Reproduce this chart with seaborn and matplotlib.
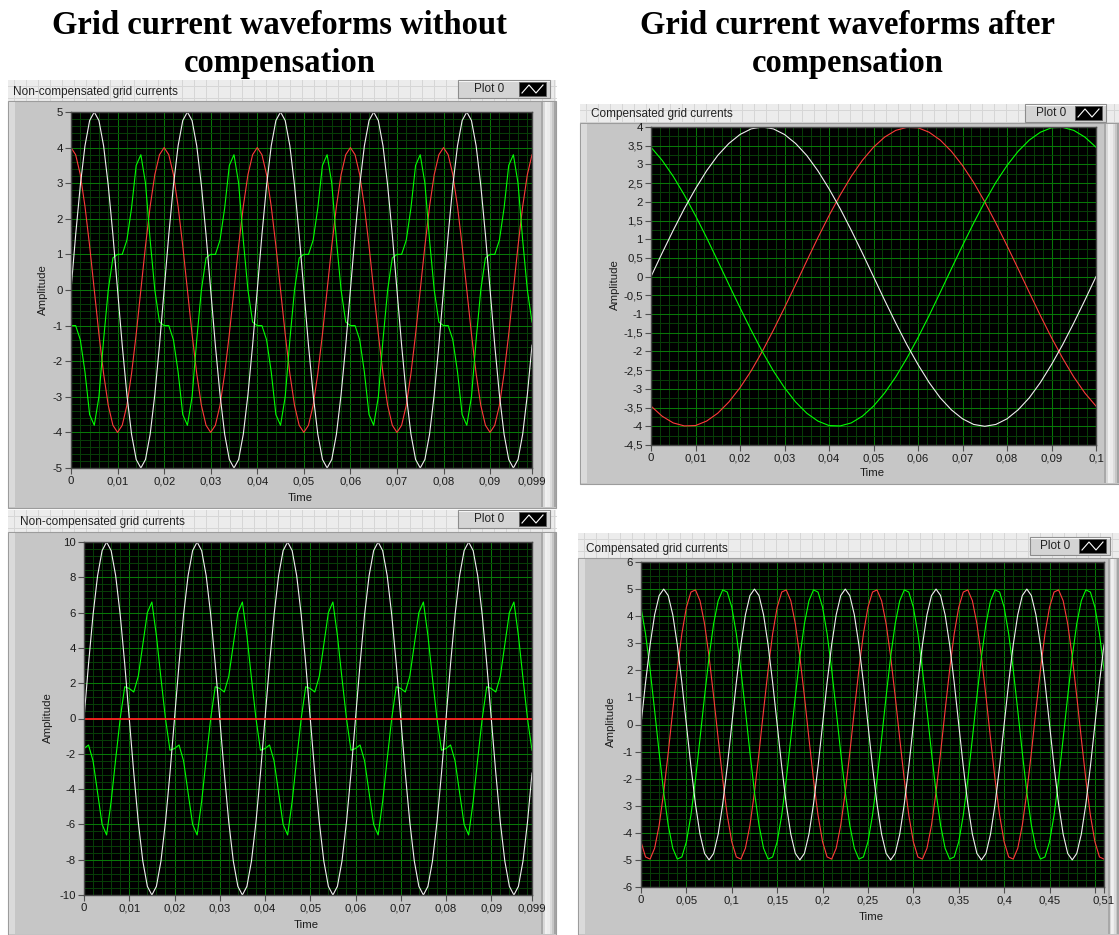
import numpy as np
import pandas as pd
import matplotlib
matplotlib.use("Agg")
import matplotlib.pyplot as plt
import seaborn as sns
from matplotlib.patches import Rectangle
from matplotlib.lines import Line2D
from matplotlib.ticker import MultipleLocator

plt.rcParams['font.family'] = ['Liberation Sans', 'DejaVu Sans']

# ---------------------------------------------------------------- data
# Top-left: non-compensated currents, 100 samples, dt = 0.001 s
TL_DT = 0.001
TL_WHITE = [
    0.0, 1.55, 2.94, 4.05, 4.76, 5.0, 4.76, 4.05, 2.94, 1.55, 0.0, -1.55, -2.94, -4.05, -4.76, -5.0, -4.76, -4.05, -2.94, -1.55,
    0.0, 1.55, 2.94, 4.05, 4.76, 5.0, 4.76, 4.05, 2.94, 1.55, 0.0, -1.55, -2.94, -4.05, -4.76, -5.0, -4.76, -4.05, -2.94, -1.55,
    0.0, 1.55, 2.94, 4.05, 4.76, 5.0, 4.76, 4.05, 2.94, 1.55, 0.0, -1.55, -2.94, -4.05, -4.76, -5.0, -4.76, -4.05, -2.94, -1.55,
    0.0, 1.55, 2.94, 4.05, 4.76, 5.0, 4.76, 4.05, 2.94, 1.55, 0.0, -1.55, -2.94, -4.05, -4.76, -5.0, -4.76, -4.05, -2.94, -1.55,
    0.0, 1.55, 2.94, 4.05, 4.76, 5.0, 4.76, 4.05, 2.94, 1.55, 0.0, -1.55, -2.94, -4.05, -4.76, -5.0, -4.76, -4.05, -2.94, -1.55,
]
TL_RED = [
    4.0, 3.8, 3.24, 2.35, 1.24, 0.0, -1.24, -2.35, -3.24, -3.8, -4.0, -3.8, -3.24, -2.35, -1.24, 0.0, 1.24, 2.35, 3.24, 3.8,
    4.0, 3.8, 3.24, 2.35, 1.24, 0.0, -1.24, -2.35, -3.24, -3.8, -4.0, -3.8, -3.24, -2.35, -1.24, 0.0, 1.24, 2.35, 3.24, 3.8,
    4.0, 3.8, 3.24, 2.35, 1.24, 0.0, -1.24, -2.35, -3.24, -3.8, -4.0, -3.8, -3.24, -2.35, -1.24, 0.0, 1.24, 2.35, 3.24, 3.8,
    4.0, 3.8, 3.24, 2.35, 1.24, 0.0, -1.24, -2.35, -3.24, -3.8, -4.0, -3.8, -3.24, -2.35, -1.24, 0.0, 1.24, 2.35, 3.24, 3.8,
    4.0, 3.8, 3.24, 2.35, 1.24, 0.0, -1.24, -2.35, -3.24, -3.8, -4.0, -3.8, -3.24, -2.35, -1.24, 0.0, 1.24, 2.35, 3.24, 3.8,
]
TL_GREEN = [
    -1.0, -1.0, -1.4, -2.3, -3.5, -3.8, -3.0, -1.4, 0.0, 0.9, 1.0, 1.0, 1.4, 2.3, 3.5, 3.8, 3.0, 1.4, 0.0, -0.9,
    -1.0, -1.0, -1.4, -2.3, -3.5, -3.8, -3.0, -1.4, 0.0, 0.9, 1.0, 1.0, 1.4, 2.3, 3.5, 3.8, 3.0, 1.4, 0.0, -0.9,
    -1.0, -1.0, -1.4, -2.3, -3.5, -3.8, -3.0, -1.4, 0.0, 0.9, 1.0, 1.0, 1.4, 2.3, 3.5, 3.8, 3.0, 1.4, 0.0, -0.9,
    -1.0, -1.0, -1.4, -2.3, -3.5, -3.8, -3.0, -1.4, 0.0, 0.9, 1.0, 1.0, 1.4, 2.3, 3.5, 3.8, 3.0, 1.4, 0.0, -0.9,
    -1.0, -1.0, -1.4, -2.3, -3.5, -3.8, -3.0, -1.4, 0.0, 0.9, 1.0, 1.0, 1.4, 2.3, 3.5, 3.8, 3.0, 1.4, 0.0, -0.9,
]
TL_XTICKS = [0, 0.01, 0.02, 0.03, 0.04, 0.05, 0.06, 0.07, 0.08, 0.09, 0.099]
TL_XLABELS = ["0", "0,01", "0,02", "0,03", "0,04", "0,05", "0,06", "0,07", "0,08", "0,09", "0,099"]
TL_YTICKS = [5, 4, 3, 2, 1, 0, -1, -2, -3, -4, -5]
TL_YLABELS = ["5", "4", "3", "2", "1", "0", "-1", "-2", "-3", "-4", "-5"]

# Bottom-left: non-compensated currents, 100 samples, dt = 0.001 s
BL_DT = 0.001
BL_WHITE = [
    0.0, 3.09, 5.88, 8.09, 9.51, 10.0, 9.51, 8.09, 5.88, 3.09, 0.0, -3.09, -5.88, -8.09, -9.51, -10.0, -9.51, -8.09, -5.88, -3.09,
    0.0, 3.09, 5.88, 8.09, 9.51, 10.0, 9.51, 8.09, 5.88, 3.09, 0.0, -3.09, -5.88, -8.09, -9.51, -10.0, -9.51, -8.09, -5.88, -3.09,
    0.0, 3.09, 5.88, 8.09, 9.51, 10.0, 9.51, 8.09, 5.88, 3.09, 0.0, -3.09, -5.88, -8.09, -9.51, -10.0, -9.51, -8.09, -5.88, -3.09,
    0.0, 3.09, 5.88, 8.09, 9.51, 10.0, 9.51, 8.09, 5.88, 3.09, 0.0, -3.09, -5.88, -8.09, -9.51, -10.0, -9.51, -8.09, -5.88, -3.09,
    0.0, 3.09, 5.88, 8.09, 9.51, 10.0, 9.51, 8.09, 5.88, 3.09, 0.0, -3.09, -5.88, -8.09, -9.51, -10.0, -9.51, -8.09, -5.88, -3.09,
]
BL_RED = [
    0.0, 0.0, 0.0, 0.0, 0.0, 0.0, 0.0, 0.0, 0.0, 0.0, 0.0, 0.0, 0.0, 0.0, 0.0, 0.0, 0.0, 0.0, 0.0, 0.0,
    0.0, 0.0, 0.0, 0.0, 0.0, 0.0, 0.0, 0.0, 0.0, 0.0, 0.0, 0.0, 0.0, 0.0, 0.0, 0.0, 0.0, 0.0, 0.0, 0.0,
    0.0, 0.0, 0.0, 0.0, 0.0, 0.0, 0.0, 0.0, 0.0, 0.0, 0.0, 0.0, 0.0, 0.0, 0.0, 0.0, 0.0, 0.0, 0.0, 0.0,
    0.0, 0.0, 0.0, 0.0, 0.0, 0.0, 0.0, 0.0, 0.0, 0.0, 0.0, 0.0, 0.0, 0.0, 0.0, 0.0, 0.0, 0.0, 0.0, 0.0,
    0.0, 0.0, 0.0, 0.0, 0.0, 0.0, 0.0, 0.0, 0.0, 0.0, 0.0, 0.0, 0.0, 0.0, 0.0, 0.0, 0.0, 0.0, 0.0, 0.0,
]
BL_GREEN = [
    -1.7, -1.5, -2.4, -4.2, -6.0, -6.6, -4.7, -2.3, 0.0, 1.8, 1.7, 1.5, 2.4, 4.2, 6.0, 6.6, 4.7, 2.3, 0.0, -1.8,
    -1.7, -1.5, -2.4, -4.2, -6.0, -6.6, -4.7, -2.3, 0.0, 1.8, 1.7, 1.5, 2.4, 4.2, 6.0, 6.6, 4.7, 2.3, 0.0, -1.8,
    -1.7, -1.5, -2.4, -4.2, -6.0, -6.6, -4.7, -2.3, 0.0, 1.8, 1.7, 1.5, 2.4, 4.2, 6.0, 6.6, 4.7, 2.3, 0.0, -1.8,
    -1.7, -1.5, -2.4, -4.2, -6.0, -6.6, -4.7, -2.3, 0.0, 1.8, 1.7, 1.5, 2.4, 4.2, 6.0, 6.6, 4.7, 2.3, 0.0, -1.8,
    -1.7, -1.5, -2.4, -4.2, -6.0, -6.6, -4.7, -2.3, 0.0, 1.8, 1.7, 1.5, 2.4, 4.2, 6.0, 6.6, 4.7, 2.3, 0.0, -1.8,
]
BL_XTICKS = TL_XTICKS
BL_XLABELS = TL_XLABELS
BL_YTICKS = [10, 8, 6, 4, 2, 0, -2, -4, -6, -8, -10]
BL_YLABELS = ["10", "8", "6", "4", "2", "0", "-2", "-4", "-6", "-8", "-10"]

# Top-right: compensated currents, 41 samples, dt = 0.0025 s
TR_DT = 0.0025
TR_WHITE = [
    0.0, 0.63, 1.24, 1.82, 2.35, 2.83, 3.24, 3.56, 3.8, 3.95, 4.0, 3.95, 3.8, 3.56, 3.24, 2.83, 2.35, 1.82, 1.24, 0.63,
    0.0, -0.63, -1.24, -1.82, -2.35, -2.83, -3.24, -3.56, -3.8, -3.95, -4.0, -3.95, -3.8, -3.56, -3.24, -2.83, -2.35, -1.82, -1.24, -0.63,
    0.0,
]
TR_RED = [
    -3.46, -3.73, -3.91, -3.99, -3.98, -3.86, -3.65, -3.35, -2.97, -2.52, -2.0, -1.43, -0.83, -0.21, 0.42, 1.04, 1.63, 2.18, 2.68, 3.11,
    3.46, 3.73, 3.91, 3.99, 3.98, 3.86, 3.65, 3.35, 2.97, 2.52, 2.0, 1.43, 0.83, 0.21, -0.42, -1.04, -1.63, -2.18, -2.68, -3.11,
    -3.46,
]
TR_GREEN = [
    3.46, 3.11, 2.68, 2.18, 1.63, 1.04, 0.42, -0.21, -0.83, -1.43, -2.0, -2.52, -2.97, -3.35, -3.65, -3.86, -3.98, -3.99, -3.91, -3.73,
    -3.46, -3.11, -2.68, -2.18, -1.63, -1.04, -0.42, 0.21, 0.83, 1.43, 2.0, 2.52, 2.97, 3.35, 3.65, 3.86, 3.98, 3.99, 3.91, 3.73,
    3.46,
]
TR_XTICKS = [0, 0.01, 0.02, 0.03, 0.04, 0.05, 0.06, 0.07, 0.08, 0.09, 0.1]
TR_XLABELS = ["0", "0,01", "0,02", "0,03", "0,04", "0,05", "0,06", "0,07", "0,08", "0,09", "0,1"]
TR_YTICKS = [4, 3.5, 3, 2.5, 2, 1.5, 1, 0.5, 0, -0.5, -1, -1.5, -2, -2.5, -3, -3.5, -4, -4.5]
TR_YLABELS = ["4", "3,5", "3", "2,5", "2", "1,5", "1", "0,5", "0", "-0,5", "-1", "-1,5",
              "-2", "-2,5", "-3", "-3,5", "-4", "-4,5"]

# Bottom-right: compensated currents, 103 samples, dt = 0.005 s
BR_DT = 0.005
BR_WHITE = [
    0.0, 1.55, 2.94, 4.05, 4.76, 5.0, 4.76, 4.05, 2.94, 1.55, 0.0, -1.55, -2.94, -4.05, -4.76, -5.0, -4.76, -4.05, -2.94, -1.55,
    0.0, 1.55, 2.94, 4.05, 4.76, 5.0, 4.76, 4.05, 2.94, 1.55, 0.0, -1.55, -2.94, -4.05, -4.76, -5.0, -4.76, -4.05, -2.94, -1.55,
    0.0, 1.55, 2.94, 4.05, 4.76, 5.0, 4.76, 4.05, 2.94, 1.55, 0.0, -1.55, -2.94, -4.05, -4.76, -5.0, -4.76, -4.05, -2.94, -1.55,
    0.0, 1.55, 2.94, 4.05, 4.76, 5.0, 4.76, 4.05, 2.94, 1.55, 0.0, -1.55, -2.94, -4.05, -4.76, -5.0, -4.76, -4.05, -2.94, -1.55,
    0.0, 1.55, 2.94, 4.05, 4.76, 5.0, 4.76, 4.05, 2.94, 1.55, 0.0, -1.55, -2.94, -4.05, -4.76, -5.0, -4.76, -4.05, -2.94, -1.55,
    0.0, 1.55, 2.94,
]
BR_RED = [
    -4.33, -4.89, -4.97, -4.57, -3.72, -2.5, -1.04, 0.52, 2.03, 3.35, 4.33, 4.89, 4.97, 4.57, 3.72, 2.5, 1.04, -0.52, -2.03, -3.35,
    -4.33, -4.89, -4.97, -4.57, -3.72, -2.5, -1.04, 0.52, 2.03, 3.35, 4.33, 4.89, 4.97, 4.57, 3.72, 2.5, 1.04, -0.52, -2.03, -3.35,
    -4.33, -4.89, -4.97, -4.57, -3.72, -2.5, -1.04, 0.52, 2.03, 3.35, 4.33, 4.89, 4.97, 4.57, 3.72, 2.5, 1.04, -0.52, -2.03, -3.35,
    -4.33, -4.89, -4.97, -4.57, -3.72, -2.5, -1.04, 0.52, 2.03, 3.35, 4.33, 4.89, 4.97, 4.57, 3.72, 2.5, 1.04, -0.52, -2.03, -3.35,
    -4.33, -4.89, -4.97, -4.57, -3.72, -2.5, -1.04, 0.52, 2.03, 3.35, 4.33, 4.89, 4.97, 4.57, 3.72, 2.5, 1.04, -0.52, -2.03, -3.35,
    -4.33, -4.89, -4.97,
]
BR_GREEN = [
    4.33, 3.35, 2.03, 0.52, -1.04, -2.5, -3.72, -4.57, -4.97, -4.89, -4.33, -3.35, -2.03, -0.52, 1.04, 2.5, 3.72, 4.57, 4.97, 4.89,
    4.33, 3.35, 2.03, 0.52, -1.04, -2.5, -3.72, -4.57, -4.97, -4.89, -4.33, -3.35, -2.03, -0.52, 1.04, 2.5, 3.72, 4.57, 4.97, 4.89,
    4.33, 3.35, 2.03, 0.52, -1.04, -2.5, -3.72, -4.57, -4.97, -4.89, -4.33, -3.35, -2.03, -0.52, 1.04, 2.5, 3.72, 4.57, 4.97, 4.89,
    4.33, 3.35, 2.03, 0.52, -1.04, -2.5, -3.72, -4.57, -4.97, -4.89, -4.33, -3.35, -2.03, -0.52, 1.04, 2.5, 3.72, 4.57, 4.97, 4.89,
    4.33, 3.35, 2.03, 0.52, -1.04, -2.5, -3.72, -4.57, -4.97, -4.89, -4.33, -3.35, -2.03, -0.52, 1.04, 2.5, 3.72, 4.57, 4.97, 4.89,
    4.33, 3.35, 2.03,
]
BR_XTICKS = [0, 0.05, 0.1, 0.15, 0.2, 0.25, 0.3, 0.35, 0.4, 0.45, 0.5, 0.51]
BR_XLABELS = ["0", "0,05", "0,1", "0,15", "0,2", "0,25", "0,3", "0,35", "0,4", "0,45", "", "0,51"]
BR_YTICKS = [6, 5, 4, 3, 2, 1, 0, -1, -2, -3, -4, -5, -6]
BR_YLABELS = ["6", "5", "4", "3", "2", "1", "0", "-1", "-2", "-3", "-4", "-5", "-6"]

TITLE_LEFT = ["Grid current waveforms without", "compensation"]
TITLE_RIGHT = ["Grid current waveforms after", "compensation"]
LABEL_NC = "Non-compensated grid currents"
LABEL_C = "Compensated grid currents"

# ---------------------------------------------------------------- styling
W, H = 1119, 935
C_WHITE = "#f0f0f0"
C_RED = "#ff3a3a"
C_GREEN = "#00ff00"
C_MAJOR = "#087808"
C_MINOR = "#083e08"
C_FRAME = "#c6c6c6"

fig = plt.figure(figsize=(W / 100, H / 100), dpi=100)
fig.patch.set_facecolor("white")


def fx(x):
    return x / W


def fy(y):
    return 1 - y / H


def rect(x0, y0, x1, y1, z=-5, **kw):
    r = Rectangle((fx(x0), fy(y1)), (x1 - x0) / W, (y1 - y0) / H,
                  transform=fig.transFigure, zorder=z, **kw)
    fig.add_artist(r)
    return r


def line(xs, ys, z=-4, **kw):
    ln = Line2D([fx(v) for v in xs], [fy(v) for v in ys],
                transform=fig.transFigure, zorder=z, **kw)
    fig.add_artist(ln)


def panel(x0, x1, yh, yf, yb, label, lx, ly, p0, bar):
    # header row (LabVIEW front-panel grid)
    rect(x0, yh, x1, yf, fc="#ececec", ec="none", z=-6)
    for gx in np.arange(x0 + 6, x1, 12):
        line([gx, gx], [yh, yf], z=-5.5, color="#d6d6d6", lw=0.7)
    for gy in np.arange(yh + 6, yf, 12):
        line([x0, x1], [gy, gy], z=-5.5, color="#d6d6d6", lw=0.7)
    # graph frame
    rect(x0, yf, x1, yb, fc=C_FRAME, ec="#9c9c9c", lw=0.8, z=-5)
    rect(x0 + 1, yf + 1, x0 + 7, yb - 1, fc="#dadada", ec="none", z=-4.9)
    # right-hand 3D bar
    bx0, bx1 = bar
    cols = ["#a8a8a8", "#d8d8d8", "#f0f0f0", "#ececec", "#dcdcdc", "#c6c6c6", "#a4a4a4"]
    step = (bx1 - bx0) / len(cols)
    for i, c in enumerate(cols):
        rect(bx0 + i * step, yf + 1, bx0 + (i + 1) * step + 0.3, yb - 1, fc=c, ec="none", z=-4.8)
    fig.text(fx(lx), fy(ly), label, ha="left", va="center", fontsize=8.5, color="#222222")
    # Plot 0 legend box
    px0, py0, px1, py1 = p0
    rect(px0, py0, px1, py1, fc="#d4d4d4", ec="#8c8c8c", lw=0.8, z=-3)
    line([px0 + 1, px1 - 1], [py0 + 1, py0 + 1], z=-2.9, color="#f4f4f4", lw=0.8)
    iw = 27
    ix0, ix1 = px1 - iw - 4, px1 - 4
    fig.text(fx((px0 + ix0) / 2 + 1), fy((py0 + py1) / 2), "Plot 0", ha="center", va="center",
             fontsize=8.5, color="#222222")
    rect(ix0, py0 + 2, ix1, py1 - 2, fc="black", ec="#606060", lw=0.6, z=-2.8)
    ym = (py0 + py1) / 2
    line([ix0 + 3, ix0 + 10, ix0 + 17, ix1 - 3], [ym + 4, ym - 4, ym + 4, ym - 4],
         z=-2.7, color="white", lw=0.8)


def graph(rect_px, t, series, xlim, ylim, xticks, xlabels, yticks, ylabels, xminor, yminor,
          amp_xy, time_xy):
    x0, y0, x1, y1 = rect_px
    ax = fig.add_axes([fx(x0), fy(y1), (x1 - x0) / W, (y1 - y0) / H], zorder=2)
    ax.set_facecolor("black")
    for vals, col, lw in series:
        df = pd.DataFrame({"Time": t, "Amplitude": vals})
        sns.lineplot(data=df, x="Time", y="Amplitude", ax=ax, color=col, lw=lw,
                     estimator=None, sort=False)
    ax.set_xlim(*xlim)
    ax.set_ylim(*ylim)
    ax.set_xticks(xticks)
    ax.set_xticklabels(xlabels)
    ax.set_yticks(yticks)
    ax.set_yticklabels(ylabels)
    ax.xaxis.set_minor_locator(MultipleLocator(xminor))
    ax.yaxis.set_minor_locator(MultipleLocator(yminor))
    ax.set_axisbelow(True)
    ax.grid(True, which="minor", color=C_MINOR, lw=0.7)
    ax.grid(True, which="major", color=C_MAJOR, lw=0.75)
    ax.tick_params(which="major", direction="out", length=4.3, width=0.8, color="#505050",
                   labelsize=8.2, labelcolor="#1c1c1c", pad=1.5)
    ax.tick_params(which="minor", length=0)
    for s in ax.spines.values():
        s.set_color("#4a4a4a")
        s.set_linewidth(1.0)
    ax.set_xlabel("")
    ax.set_ylabel("")
    fig.text(fx(amp_xy[0]), fy(amp_xy[1]), "Amplitude", rotation=90, ha="center", va="center",
             fontsize=8.2, color="#1c1c1c")
    fig.text(fx(time_xy[0]), fy(time_xy[1]), "Time", ha="center", va="center",
             fontsize=8.2, color="#1c1c1c")
    return ax


# ---------------------------------------------------------------- titles
for i, txt in enumerate(TITLE_LEFT):
    fig.text(fx(279.5), fy(34 + 38 * i), txt, ha="center", va="baseline",
             family=["Liberation Serif", "DejaVu Serif"], weight="bold", fontsize=23.5, color="black")
for i, txt in enumerate(TITLE_RIGHT):
    fig.text(fx(848), fy(34 + 38 * i), txt, ha="center", va="baseline",
             family=["Liberation Serif", "DejaVu Serif"], weight="bold", fontsize=23.5, color="black")

# ---------------------------------------------------------------- panels
panel(8, 556, 80, 101, 508, LABEL_NC, 13, 92, (458, 80, 550, 98), (541, 556))
panel(8, 556, 510, 532, 935, LABEL_NC, 20, 522, (458, 510, 550, 528), (541, 556))
panel(580, 1119, 104, 123, 484, LABEL_C, 591, 114, (1025, 104, 1106, 122), (1104, 1119))
panel(578, 1119, 533, 558, 935, LABEL_C, 586, 549, (1030, 537, 1110, 555), (1108, 1119))

# ---------------------------------------------------------------- graphs
LW = 0.8
graph((71, 112, 532, 468), np.arange(len(TL_WHITE)) * TL_DT,
      [(TL_RED, C_RED, LW), (TL_GREEN, C_GREEN, LW), (TL_WHITE, C_WHITE, LW)],
      (0, 0.099), (-5, 5), TL_XTICKS, TL_XLABELS, TL_YTICKS, TL_YLABELS, 0.002, 0.2,
      (43, 290), (300, 498))

graph((84, 542, 532, 895), np.arange(len(BL_WHITE)) * BL_DT,
      [(BL_GREEN, C_GREEN, LW), (BL_WHITE, C_WHITE, LW), (BL_RED, "#ff2020", 1.3)],
      (0, 0.099), (-10, 10), BL_XTICKS, BL_XLABELS, BL_YTICKS, BL_YLABELS, 0.002, 0.4,
      (48, 718), (306, 925))

graph((651, 127, 1096, 445), np.arange(len(TR_WHITE)) * TR_DT,
      [(TR_RED, C_RED, LW), (TR_GREEN, C_GREEN, LW), (TR_WHITE, C_WHITE, LW)],
      (0, 0.1), (-4.5, 4), TR_XTICKS, TR_XLABELS, TR_YTICKS, TR_YLABELS, 0.002, 0.25,
      (615, 285), (872, 473))

graph((641, 562, 1104, 887), np.arange(len(BR_WHITE)) * BR_DT,
      [(BR_RED, C_RED, LW), (BR_GREEN, C_GREEN, LW), (BR_WHITE, C_WHITE, LW)],
      (0, 0.51), (-6, 6), BR_XTICKS, BR_XLABELS, BR_YTICKS, BR_YLABELS, 0.01, 0.25,
      (611, 722), (871, 917))

fig.savefig("out.png", dpi=100, facecolor=fig.get_facecolor())
